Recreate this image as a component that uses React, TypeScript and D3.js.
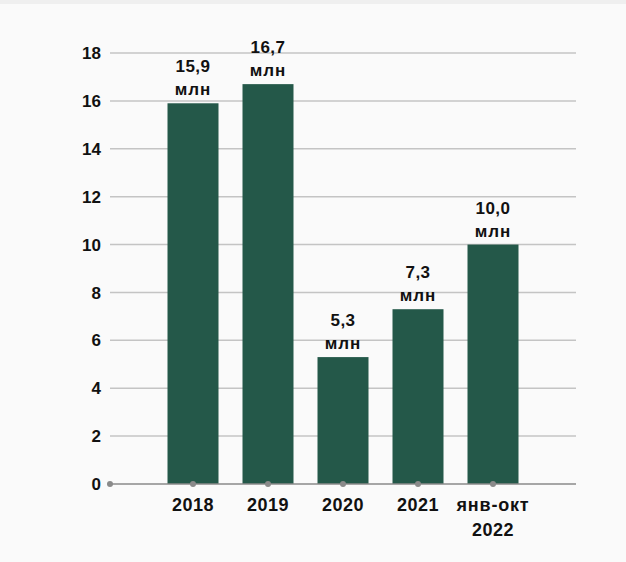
import React from "react";
import * as d3 from "d3";

const categories = ["2018", "2019", "2020", "2021", "янв-окт\n2022"];
const values = [15.9, 16.7, 5.3, 7.3, 10.0];
const valueLabels = ["15,9", "16,7", "5,3", "7,3", "10,0"];
const unitLabel = "млн";
const yTicks = [0, 2, 4, 6, 8, 10, 12, 14, 16, 18];

const W = 626;
const H = 562;
const FONT = "'Liberation Sans', Arial, sans-serif";

export default function App() {
  const x = d3.scaleBand<string>().domain(categories).range([155.5, 530.5]).paddingInner(0.32).paddingOuter(0.16);
  const y = d3.scaleLinear().domain([0, 18]).range([484, 53]);
  const gridX0 = 110;
  const gridX1 = 576;
  const bw = x.bandwidth();

  return (
    <div style={{ position: "absolute", left: 0, top: 0 }}>
      <svg width={W} height={H} style={{ display: "block" }}>
        <rect x={0} y={0} width={W} height={H} fill="#fafafa" />
        <rect x={0} y={0} width={W} height={4} fill="#efefef" />
        {yTicks.map((t) =>
          t === 0 ? null : (
            <line key={"g" + t} x1={gridX0} x2={gridX1} y1={y(t)} y2={y(t)} stroke="#c4c4c4" strokeWidth={1.5} />
          )
        )}
        {yTicks.map((t) => (
          <text
            key={"t" + t}
            x={101}
            y={y(t)}
            dy="0.36em"
            textAnchor="end"
            fontFamily={FONT}
            fontWeight="bold"
            fontSize={17}
            fill="#111"
          >
            {t}
          </text>
        ))}
        {categories.map((c, i) => (
          <rect key={"b" + c} x={x(c)} y={y(values[i])} width={bw} height={y(0) - y(values[i])} fill="#245849" />
        ))}
        <line x1={gridX0} x2={gridX1} y1={y(0)} y2={y(0)} stroke="#8a8a8a" strokeWidth={1.5} />
        <circle cx={gridX0} cy={y(0)} r={3} fill="#8a8a8a" />
        {categories.map((c) => (
          <circle key={"d" + c} cx={(x(c) as number) + bw / 2} cy={y(0)} r={3} fill="#8a8a8a" />
        ))}
        {categories.map((c, i) => {
          const cx = (x(c) as number) + bw / 2;
          const top = y(values[i]);
          return (
            <g key={"l" + c} fontFamily={FONT} fontWeight="bold" fill="#111" textAnchor="middle">
              <text x={cx} y={top - 31} fontSize={17} letterSpacing={0.5}>{valueLabels[i]}</text>
              <text x={cx} y={top - 8} fontSize={17} letterSpacing={1}>{unitLabel}</text>
            </g>
          );
        })}
        {categories.map((c) => {
          const cx = (x(c) as number) + bw / 2;
          const lines = c.split("\n");
          return (
            <g key={"x" + c} fontFamily={FONT} fontWeight="bold" fill="#111" textAnchor="middle">
              {lines.map((ln, j) => (
                <text key={j} x={cx} y={511 + j * 25} fontSize={18} letterSpacing={lines.length > 1 && j === 0 ? 0.8 : 0.5}>
                  {ln}
                </text>
              ))}
            </g>
          );
        })}
      </svg>
    </div>
  );
}
